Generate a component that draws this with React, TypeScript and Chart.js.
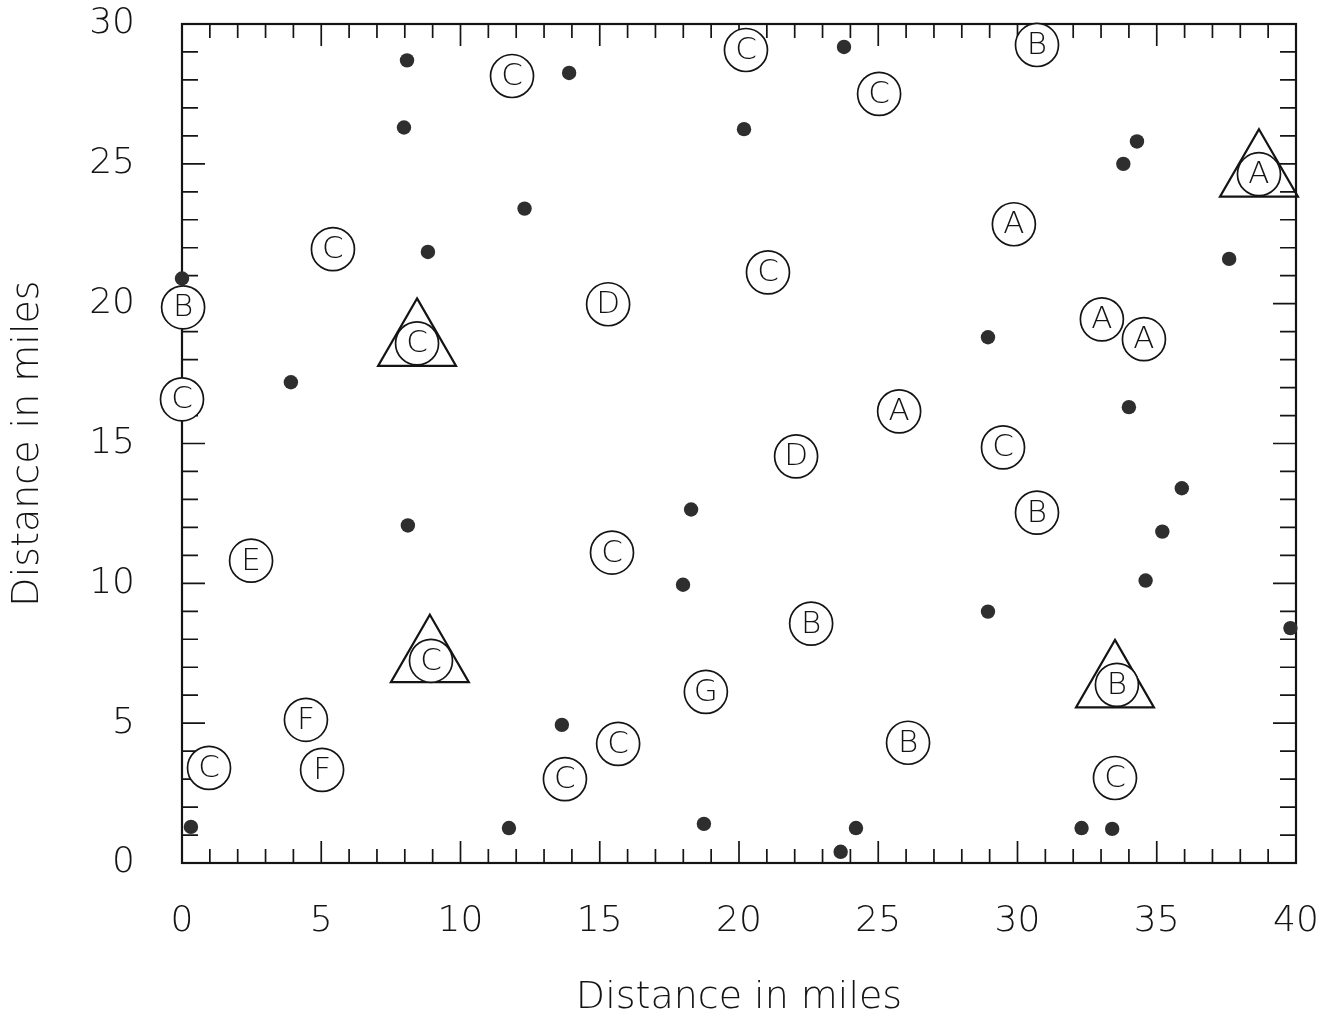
import React, { useEffect, useRef } from 'react';
import { Chart, registerables } from 'chart.js';

Chart.register(...registerables);

// ---- data (miles) ----
const dotX = [0.0, 0.32, 8.08, 7.97, 8.83, 3.91, 8.11, 12.3, 13.9, 23.77, 20.18, 18.28, 17.99, 13.64, 11.74, 18.74, 23.65, 24.2, 28.94, 28.94, 33.8, 34.29, 37.6, 34.0, 35.9, 35.2, 34.6, 39.8, 32.3, 33.4];
const dotY = [20.9, 1.29, 28.7, 26.3, 21.85, 17.19, 12.07, 23.4, 28.25, 29.18, 26.24, 12.64, 9.95, 4.94, 1.25, 1.4, 0.4, 1.25, 18.8, 8.99, 25.0, 25.8, 21.6, 16.3, 13.4, 11.85, 10.1, 8.4, 1.25, 1.22];

const circleLetters = ['C', 'C', 'C', 'B', 'C', 'B', 'C', 'C', 'D', 'C', 'A', 'A', 'A', 'A', 'A', 'C', 'D', 'B', 'E', 'C', 'C', 'B', 'G', 'B', 'F', 'F', 'C', 'C', 'C', 'B', 'C'];
const circleX = [11.85, 20.25, 25.03, 30.7, 5.42, 0.04, 0.0, 8.44, 15.3, 21.04, 29.87, 38.67, 33.03, 34.54, 25.75, 29.48, 22.05, 30.7, 2.48, 15.44, 8.94, 22.59, 18.81, 33.57, 4.45, 5.03, 0.97, 15.66, 13.75, 26.07, 33.5];
const circleY = [28.14, 29.07, 27.5, 29.25, 21.95, 19.87, 16.58, 18.58, 19.98, 21.12, 22.84, 24.63, 19.44, 18.73, 16.15, 14.86, 14.54, 12.53, 10.81, 11.1, 7.23, 8.56, 6.12, 6.37, 5.12, 3.33, 3.4, 4.26, 3.0, 4.3, 3.04];

const triangleX = [8.44, 38.67, 8.9, 33.5];
const triangleY = [18.58, 24.63, 7.27, 6.37];

const xTickLabels = ['0', '5', '10', '15', '20', '25', '30', '35', '40'];
const yTickLabels = ['0', '5', '10', '15', '20', '25', '30'];
const axisTitle = 'Distance in miles';

const FONT = '"DejaVu Sans", "Liberation Sans", sans-serif';
const INK = '#141414';

const CIRCLE_INDEX = 1;

const framePlugin = {
  id: 'frameTicks',
  beforeDatasetsDraw(chart: any) {
    const { ctx, chartArea } = chart;
    const { left, right, top, bottom } = chartArea;
    const xs = chart.scales.x;
    const ys = chart.scales.y;
    ctx.save();
    ctx.strokeStyle = INK;
    ctx.lineWidth = 2.2;
    ctx.strokeRect(left, top, right - left, bottom - top);
    ctx.lineWidth = 1.7;
    ctx.beginPath();
    for (let v = 1; v < 40; v++) {
      const px = xs.getPixelForValue(v);
      const len = v % 5 === 0 ? 22 : 14;
      ctx.moveTo(px, bottom);
      ctx.lineTo(px, bottom - len);
      ctx.moveTo(px, top);
      ctx.lineTo(px, top + len);
    }
    for (let v = 1; v < 30; v++) {
      const py = ys.getPixelForValue(v);
      const len = v % 5 === 0 ? 23 : 16;
      ctx.moveTo(left, py);
      ctx.lineTo(left + len, py);
      ctx.moveTo(right, py);
      ctx.lineTo(right - len, py);
    }
    ctx.stroke();
    ctx.restore();
  },
};

const letterPlugin = {
  id: 'circleLetters',
  afterDatasetDraw(chart: any, args: any) {
    if (args.index !== CIRCLE_INDEX) return;
    const { ctx } = chart;
    ctx.save();
    ctx.font = `300 31px ${FONT}`;
    ctx.fillStyle = INK;
    ctx.textAlign = 'center';
    ctx.textBaseline = 'middle';
    args.meta.data.forEach((el: any, i: number) => {
      ctx.fillText(circleLetters[i], el.x, el.y + 1);
    });
    ctx.restore();
  },
};

export default function App() {
  const canvasRef = useRef<HTMLCanvasElement | null>(null);

  useEffect(() => {
    if (!canvasRef.current) return;
    const chart = new Chart(canvasRef.current, {
      type: 'scatter',
      data: {
        datasets: [
          {
            label: 'dots',
            data: dotX.map((x, i) => ({ x, y: dotY[i] })),
            pointStyle: 'circle',
            pointRadius: 7.2,
            backgroundColor: '#2e2e2e',
            borderColor: '#2e2e2e',
            borderWidth: 0,
            order: 1,
            clip: false,
          },
          {
            label: 'circles',
            data: circleX.map((x, i) => ({ x, y: circleY[i] })),
            pointStyle: 'circle',
            pointRadius: 21.5,
            backgroundColor: '#ffffff',
            borderColor: INK,
            borderWidth: 1.7,
            order: 2,
            clip: false,
          },
          {
            label: 'triangles',
            data: triangleX.map((x, i) => ({ x, y: triangleY[i] })),
            pointStyle: 'triangle',
            pointRadius: 45,
            backgroundColor: 'rgba(0,0,0,0)',
            borderColor: INK,
            borderWidth: 2.2,
            order: 3,
            clip: false,
          },
        ] as any,
      },
      options: {
        responsive: false,
        animation: false,
        events: [],
        layout: { autoPadding: false, padding: { top: 24, right: 44, left: 0, bottom: 0 } },
        plugins: {
          legend: { display: false },
          tooltip: { enabled: false },
        },
        scales: {
          x: {
            type: 'linear',
            position: 'bottom',
            min: 0,
            max: 40,
            grid: { display: false, drawTicks: false },
            border: { display: false },
            ticks: {
              stepSize: 5,
              padding: 37,
              color: INK,
              font: { family: FONT, size: 36, weight: '300' as any },
              callback: (v: any) => xTickLabels[Math.round(Number(v) / 5)] ?? '',
            },
            title: {
              display: true,
              text: axisTitle,
              color: INK,
              font: { family: FONT, size: 38, weight: '300' as any, lineHeight: 1 },
              padding: { top: 0, bottom: -2 },
            },
            afterFit: (scale: any) => {
              scale.height = 152;
              scale.paddingLeft = 0;
              scale.paddingRight = 0;
            },
          },
          y: {
            type: 'linear',
            position: 'left',
            min: 0,
            max: 30,
            grid: { display: false, drawTicks: false },
            border: { display: false },
            ticks: {
              stepSize: 5,
              padding: 47,
              color: INK,
              font: { family: FONT, size: 36, weight: '300' as any },
              callback: (v: any) => yTickLabels[Math.round(Number(v) / 5)] ?? '',
            },
            title: {
              display: true,
              text: axisTitle,
              color: INK,
              font: { family: FONT, size: 38, weight: '300' as any, lineHeight: 1 },
              padding: { top: 9, bottom: 0 },
            },
            afterFit: (scale: any) => {
              scale.width = 182;
              scale.paddingTop = 0;
              scale.paddingBottom = 0;
            },
          },
        },
      } as any,
      plugins: [framePlugin, letterPlugin],
    });
    return () => chart.destroy();
  }, []);

  return (
    <div style={{ position: 'absolute', left: 0, top: 0, width: 1340, height: 1015, background: '#fff' }}>
      <canvas ref={canvasRef} width={1340} height={1015} />
    </div>
  );
}
